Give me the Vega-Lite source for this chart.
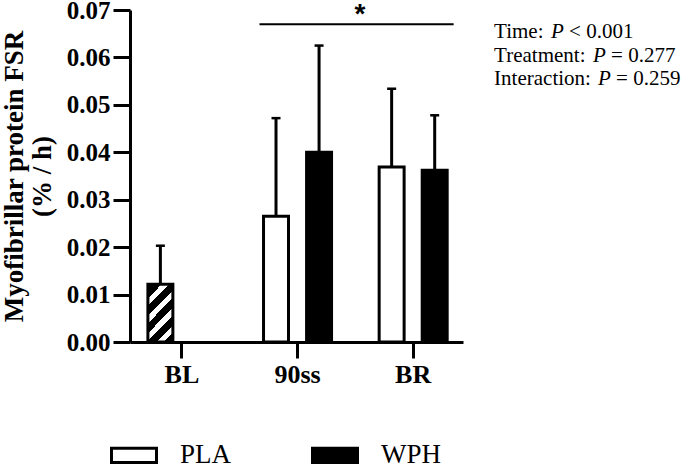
{
  "$schema": "https://vega.github.io/schema/vega-lite/v6.json",
  "width": 333,
  "height": 332,
  "autosize": {"type": "none"},
  "padding": {"left": 130, "top": 10, "right": 222, "bottom": 125},
  "background": "white",
  "config": {
    "view": {"stroke": null},
    "font": "Liberation Serif",
    "axis": {
      "domainColor": "black", "domainWidth": 3, "tickColor": "black", "tickWidth": 3,
      "labelColor": "black", "titleColor": "black", "grid": false,
      "labelFont": "Liberation Serif", "titleFont": "Liberation Serif",
      "labelFontWeight": "bold", "titleFontWeight": "bold"
    }
  },
  "datasets": {
    "fsr": [
      {"time": "BL", "treatment": "PLA", "mean": 0.0122, "upper": 0.0203},
      {"time": "90ss", "treatment": "PLA", "mean": 0.0265, "upper": 0.0472},
      {"time": "90ss", "treatment": "WPH", "mean": 0.0400, "upper": 0.0625},
      {"time": "BR", "treatment": "PLA", "mean": 0.0369, "upper": 0.0534},
      {"time": "BR", "treatment": "WPH", "mean": 0.0362, "upper": 0.0478}
    ],
    "stats": [
      {"factor": "Time:", "p": "< 0.001"},
      {"factor": "Treatment:", "p": "= 0.277"},
      {"factor": "Interaction:", "p": "= 0.259"}
    ],
    "sig": [
      {"from": "90ss", "to": "BR", "label": "*"}
    ]
  },
  "layer": [
    {
      "data": {"name": "fsr"},
      "layer": [
        {
          "transform": [{"filter": "datum.time !== 'BL'"}],
          "mark": {"type": "bar", "stroke": "black", "strokeWidth": 3},
          "encoding": {
            "x": {
              "field": "time", "type": "nominal",
              "scale": {"domain": ["BL", "90ss", "BR"], "paddingInner": 0.3, "paddingOuter": 0.09, "align": 0.55},
              "axis": {"title": null, "labelFontSize": 26, "labelPadding": 3, "tickSize": 16, "labelAngle": 0}
            },
            "xOffset": {
              "field": "treatment", "type": "nominal",
              "scale": {"domain": ["PLA", "WPH"], "paddingInner": 0.42, "paddingOuter": 0.15}
            },
            "y": {
              "field": "mean", "type": "quantitative",
              "scale": {"domain": [0, 0.07], "nice": false},
              "axis": {
                "title": ["Myofibrillar protein FSR", "(% / h)"],
                "values": [0, 0.01, 0.02, 0.03, 0.04, 0.05, 0.06, 0.07],
                "format": ".2f", "labelFontSize": 25, "tickSize": 17, "labelPadding": 3,
                "titleFontSize": 27, "titleLineHeight": 28, "titlePadding": 10
              }
            },
            "fill": {
              "field": "treatment", "type": "nominal",
              "scale": {"domain": ["PLA", "WPH"], "range": ["white", "black"]},
              "legend": {
                "title": null, "orient": "none", "legendX": -20, "legendY": 421,
                "direction": "horizontal",
                "symbolType": "M-1,-0.32H1V0.32H-1Z", "symbolSize": 2025,
                "symbolStrokeWidth": 3, "symbolStrokeColor": "black",
                "labelFont": "Liberation Serif", "labelFontSize": 27, "labelColor": "black",
                "labelOffset": 22, "columnPadding": 74, "padding": 0
              }
            }
          }
        },
        {
          "transform": [{"filter": "datum.time === 'BL'"}],
          "mark": {
            "type": "bar", "stroke": "black", "strokeWidth": 3,
            "fill": {
              "gradient": "linear", "x1": 0, "y1": 0, "x2": 0.53, "y2": 1.205,
              "stops": [
                {"offset": 0, "color": "black"},
                {"offset": 0.17, "color": "black"}, {"offset": 0.17, "color": "white"},
                {"offset": 0.26, "color": "white"}, {"offset": 0.26, "color": "black"},
                {"offset": 0.38, "color": "black"}, {"offset": 0.38, "color": "white"},
                {"offset": 0.47, "color": "white"}, {"offset": 0.47, "color": "black"},
                {"offset": 0.59, "color": "black"}, {"offset": 0.59, "color": "white"},
                {"offset": 0.68, "color": "white"}, {"offset": 0.68, "color": "black"},
                {"offset": 0.80, "color": "black"}, {"offset": 0.80, "color": "white"},
                {"offset": 0.89, "color": "white"}, {"offset": 0.89, "color": "black"},
                {"offset": 1, "color": "black"}
              ]
            }
          },
          "encoding": {
            "x": {"field": "time", "type": "nominal"},
            "xOffset": {"field": "treatment", "type": "nominal"},
            "y": {"field": "mean", "type": "quantitative"}
          }
        },
        {
          "mark": {"type": "rule", "strokeWidth": 3, "color": "black"},
          "encoding": {
            "x": {"field": "time", "type": "nominal"},
            "xOffset": {"field": "treatment", "type": "nominal"},
            "y": {"field": "mean", "type": "quantitative"},
            "y2": {"field": "upper"}
          }
        },
        {
          "mark": {"type": "tick", "thickness": 2.5, "size": 9, "color": "black", "opacity": 1},
          "encoding": {
            "x": {"field": "time", "type": "nominal"},
            "xOffset": {"field": "treatment", "type": "nominal"},
            "y": {"field": "upper", "type": "quantitative"}
          }
        },
        {
          "data": {"name": "sig"},
          "mark": {"type": "rule", "strokeWidth": 2, "color": "black"},
          "encoding": {
            "x": {"field": "from", "type": "nominal", "bandPosition": 0.03},
            "x2": {"field": "to", "bandPosition": 1},
            "y": {"datum": 0.067, "type": "quantitative"}
          }
        },
        {
          "data": {"name": "sig"},
          "mark": {"type": "text", "font": "Liberation Sans", "fontWeight": "bold", "fontSize": 28, "baseline": "alphabetic", "align": "center", "color": "black"},
          "encoding": {
            "x": {"field": "from", "type": "nominal", "bandPosition": 1.27},
            "y": {"datum": 0.0672, "type": "quantitative"},
            "text": {"field": "label"}
          }
        }
      ]
    },
    {
      "data": {"name": "stats"},
      "encoding": {
        "x": {"datum": "BR", "type": "nominal", "bandPosition": 1.5},
        "y": {
          "field": "factor", "type": "nominal",
          "scale": {"type": "point", "domain": ["Time:", "Treatment:", "Interaction:"], "range": [28.3, 75], "padding": 0},
          "axis": null
        }
      },
      "layer": [
        {
          "mark": {"type": "text", "align": "left", "baseline": "alphabetic", "font": "Liberation Serif", "fontSize": 21, "color": "black"},
          "encoding": {"text": {"field": "factor"}}
        },
        {
          "mark": {
            "type": "text", "align": "left", "baseline": "alphabetic", "font": "Liberation Serif", "fontSize": 21, "fontStyle": "italic", "color": "black",
            "text": "P",
            "dx": {"expr": "datum.factor === 'Time:' ? 57 : datum.factor === 'Treatment:' ? 99 : 104"}
          }
        },
        {
          "mark": {
            "type": "text", "align": "left", "baseline": "alphabetic", "font": "Liberation Serif", "fontSize": 21, "color": "black",
            "dx": {"expr": "datum.factor === 'Time:' ? 75 : datum.factor === 'Treatment:' ? 117 : 122"}
          },
          "encoding": {"text": {"field": "p"}}
        }
      ]
    }
  ],
  "resolve": {"scale": {"y": "independent"}}
}
